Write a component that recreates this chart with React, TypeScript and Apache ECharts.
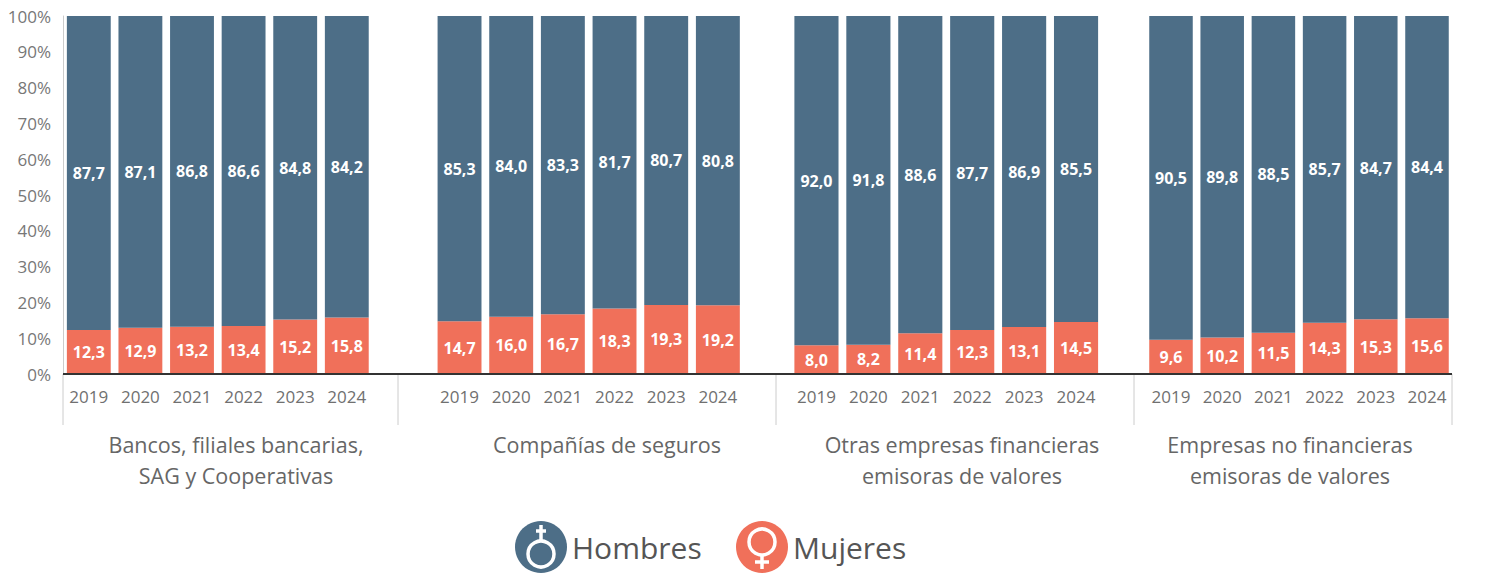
import React, { useEffect, useRef } from "react";
import * as echarts from "echarts";

const years = ["2019", "2020", "2021", "2022", "2023", "2024"];
const groupNames = [
  "Bancos, filiales bancarias,\nSAG y Cooperativas",
  "Compañías de seguros",
  "Otras empresas financieras\nemisoras de valores",
  "Empresas no financieras\nemisoras de valores",
];
const hombres1 = [87.7, 87.1, 86.8, 86.6, 84.8, 84.2];
const mujeres1 = [12.3, 12.9, 13.2, 13.4, 15.2, 15.8];
const hombres2 = [85.3, 84.0, 83.3, 81.7, 80.7, 80.8];
const mujeres2 = [14.7, 16.0, 16.7, 18.3, 19.3, 19.2];
const hombres3 = [92.0, 91.8, 88.6, 87.7, 86.9, 85.5];
const mujeres3 = [8.0, 8.2, 11.4, 12.3, 13.1, 14.5];
const hombres4 = [90.5, 89.8, 88.5, 85.7, 84.7, 84.4];
const mujeres4 = [9.6, 10.2, 11.5, 14.3, 15.3, 15.6];
const yTicks = [0, 10, 20, 30, 40, 50, 60, 70, 80, 90, 100];

const hombresData = [hombres1, hombres2, hombres3, hombres4];
const mujeresData = [mujeres1, mujeres2, mujeres3, mujeres4];

const C_H = "#4d6e87";
const C_M = "#f0705a";
const FONT = "'Open Sans', sans-serif";

export default function App() {
  const ref = useRef<HTMLDivElement>(null);
  useEffect(() => {
    document.body.style.margin = "0";
    const chart = echarts.init(ref.current!, null, { renderer: "svg" });
    const gridPos = [
      { left: 63, width: 309.6 },
      { left: 433.7, width: 310 },
      { left: 790.5, width: 311.5 },
      { left: 1145.4, width: 307.2 },
    ];
    const top = 16;
    const bottomY = 374;
    const grids = gridPos.map((g) => ({
      left: g.left,
      width: g.width,
      top,
      height: bottomY - top,
      containLabel: false,
    }));
    const xAxes = gridPos.map((_, i) => ({
      type: "category",
      gridIndex: i,
      data: years,
      axisLine: { show: false },
      axisTick: { show: false },
      axisLabel: { color: "#707070", fontSize: 17, fontFamily: FONT, margin: 14, interval: 0 },
    }));
    const yAxes = gridPos.map((_, i) => ({
      type: "value",
      gridIndex: i,
      min: 0,
      max: 100,
      interval: 10,
      splitLine: { show: false },
      axisTick: { show: false },
      axisLine: { show: i === 0, lineStyle: { color: "#ccc", width: 1 } },
      axisLabel: {
        show: i === 0,
        color: "#777",
        fontSize: 17,
        fontFamily: FONT,
        margin: 12,
        formatter: (v: number) => (yTicks.includes(v) ? v + "%" : ""),
      },
    }));
    const fmt = (p: any) => Number(p.value).toFixed(1).replace(".", ",");
    const label = {
      show: true,
      position: "inside",
      color: "#fff",
      fontWeight: "bold",
      fontSize: 16,
      fontFamily: FONT,
      formatter: fmt,
    };
    const series: any[] = [];
    for (let i = 0; i < 4; i++) {
      series.push({
        name: "Mujeres",
        type: "bar",
        stack: "s" + i,
        xAxisIndex: i,
        yAxisIndex: i,
        data: mujeresData[i],
        barWidth: "85%",
        itemStyle: { color: C_M },
        label,
      });
      series.push({
        name: "Hombres",
        type: "bar",
        stack: "s" + i,
        xAxisIndex: i,
        yAxisIndex: i,
        data: hombresData[i],
        barWidth: "85%",
        itemStyle: { color: C_H },
        label,
      });
    }
    const seps = [63, 398, 776, 1134, 1452];
    const groupCenters = [236, 607, 962, 1290];
    const white = { stroke: "#fff", lineWidth: 3.5, fill: null };
    const graphic: any[] = [
      {
        type: "line",
        shape: { x1: 63, y1: bottomY, x2: 1452, y2: bottomY },
        style: { stroke: "#333", lineWidth: 2 },
        z: 10,
      },
      ...seps.map((x) => ({
        type: "line",
        shape: { x1: x, y1: bottomY, x2: x, y2: 425 },
        style: { stroke: "#ccc", lineWidth: 1 },
      })),
      ...groupNames.map((t, i) => ({
        type: "text",
        x: groupCenters[i],
        y: 429,
        style: {
          text: t,
          fill: "#666",
          fontSize: 21.5,
          fontFamily: FONT,
          align: "center",
          verticalAlign: "top",
          lineHeight: 31,
        },
      })),
      // male symbol
      { type: "circle", shape: { cx: 541, cy: 554, r: 13 }, style: white, z: 20 },
      { type: "line", shape: { x1: 541, y1: 541, x2: 541, y2: 525 }, style: white, z: 20 },
      { type: "line", shape: { x1: 536, y1: 531, x2: 546, y2: 531 }, style: white, z: 20 },
      // female symbol
      { type: "circle", shape: { cx: 762, cy: 542, r: 13 }, style: white, z: 20 },
      { type: "line", shape: { x1: 762, y1: 555, x2: 762, y2: 569 }, style: white, z: 20 },
      { type: "line", shape: { x1: 755, y1: 562, x2: 769, y2: 562 }, style: white, z: 20 },
    ];
    const legendBase = {
      icon: "circle",
      itemWidth: 52,
      itemHeight: 52,
      itemGap: 4,
      padding: 0,
      selectedMode: false,
      top: 521,
      textStyle: { color: "#555", fontSize: 30, fontFamily: FONT },
    };
    chart.setOption({
      animation: false,
      backgroundColor: "#fff",
      grid: grids,
      xAxis: xAxes,
      yAxis: yAxes,
      series,
      legend: [
        { ...legendBase, left: 515, data: ["Hombres"] },
        { ...legendBase, left: 736, data: ["Mujeres"] },
      ],
      graphic,
    });
    return () => chart.dispose();
  }, []);
  return <div ref={ref} style={{ width: 1500, height: 573 }} />;
}
